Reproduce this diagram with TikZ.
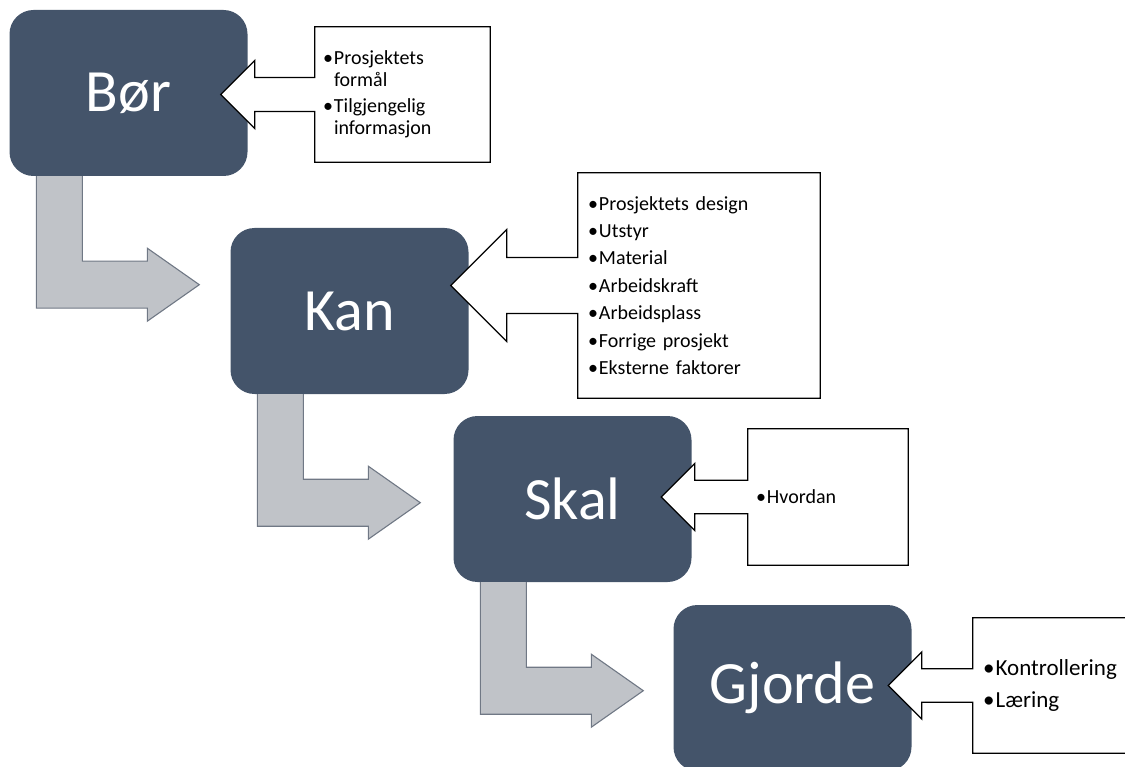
\documentclass[tikz,border=0pt]{standalone}
\usepackage{fontspec}
\setmainfont{Carlito}
\usetikzlibrary{calc}
\definecolor{slate}{RGB}{68,84,106}
\definecolor{elbowfill}{RGB}{192,195,200}
\definecolor{elbowline}{RGB}{112,120,133}
\pgfdeclarelayer{back}
\pgfdeclarelayer{mid}
\pgfsetlayers{back,mid,main}
\newcommand\bul{\makebox[0.55em][l]{•}}
\newcommand\ind{\hspace*{0.55em}}
% callout outline: note box with a left arrow (head size, shaft length)
\newcommand\pointer[3]{%
  \draw[callout] (#1.north west) -- (#1.north east) -- (#1.south east) -- (#1.south west)
    -- ($(#1.west)+(0,#2/2)$) -- ++(-#3,0) -- ++(0,#2/2) -- ++(-#2,-#2)
    -- ++(#2,-#2) -- ++(0,#2/2) -- ++(#3,0) -- cycle;}
% bent grey arrow below a stage box
\newcommand\elbowarrow[1]{%
  \filldraw[elbow] ($(#1.south west)+(73,0)$) -- ++(0,85) -- ++(65,0) -- ++(0,-13)
    -- ++(52,36.5) -- ++(-52,36.5) -- ++(0,-13) -- ++(-111,0) -- ++(0,-132);}

\begin{document}
\begin{tikzpicture}[x=1pt,y=-1pt,
    stage/.style={rectangle, rounded corners=24pt, fill=slate, text=white,
      minimum width=238pt, minimum height=166pt, inner sep=0pt,
      font=\fontsize{60}{66}\selectfont},
    elbow/.style={fill=elbowfill, draw=elbowline, line width=1.1pt},
    callout/.style={fill=white, draw=black, line width=1.3pt},
    note/.style={inner xsep=8pt, inner ysep=0pt, align=left,
      font=\fontsize{20}{22}\selectfont}]

  \useasboundingbox (0,0) rectangle (1125,767);

  \begin{pgfonlayer}{back}
    \node[stage] (bor) at (128.5,93) {Bør};
    \node[stage] (kan) at (349.5,311) {Kan};
    \node[stage] (skal) at (572.5,499) {Skal};
    \node[stage] (gjorde) at (792.5,688) {Gjorde};
    \elbowarrow{bor}
    \elbowarrow{kan}
    \elbowarrow{skal}
  \end{pgfonlayer}

  % notes
  \node[note, minimum width=175pt, minimum height=135pt, text width=159pt]
    (borNote) at (402.5,94.5)
    {\bul Prosjektets\\\ind formål\\[4pt]\bul Tilgjengelig\\\ind informasjon};
  \node[note, minimum width=242pt, minimum height=225pt, text width=222pt,
        inner xsep=10pt, font=\fontsize{20}{27.4}\selectfont]
    (kanNote) at (699,285.5)
    {\bul Prosjektets design\\\bul Utstyr\\\bul Material\\\bul Arbeidskraft\\
     \bul Arbeidsplass\\\bul Forrige prosjekt\\\bul Eksterne faktorer};
  \node[note, minimum width=160pt, minimum height=136pt, text width=144pt]
    (skalNote) at (828,497) {\bul Hvordan};
  \node[note, minimum width=160pt, minimum height=135pt, text width=140pt,
        inner xsep=10pt, font=\fontsize{23}{32}\selectfont]
    (gjordeNote) at (1053,685.5) {\bul Kontrollering\\\bul Læring};

  \begin{pgfonlayer}{mid}
    \pointer{borNote}{34}{60}
    \pointer{kanNote}{56}{71}
    \pointer{skalNote}{33.5}{53}
    \pointer{gjordeNote}{33.5}{51}
  \end{pgfonlayer}
\end{tikzpicture}
\end{document}
